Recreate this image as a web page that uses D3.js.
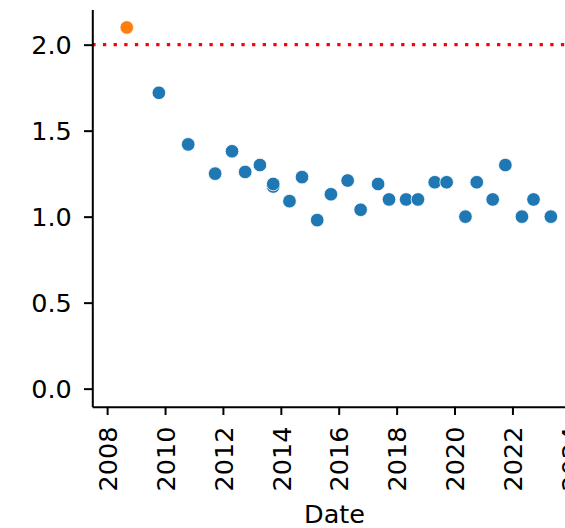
<!DOCTYPE html>
<html>
<head>
<meta charset="utf-8">
<script src="https://cdn.jsdelivr.net/npm/d3@7/dist/d3.min.js"></script>
<style>
  html, body { margin: 0; padding: 0; background: #fff; }
  svg { display: block; font-family: "DejaVu Sans", sans-serif; }
</style>
</head>
<body>
<svg id="chart" width="565" height="528"></svg>
<script>
// ---- data ----
const highlightDates = ["2008-09-05"];
const highlightValues = [2.10];

const dates = [
  "2009-10-15", "2010-10-20", "2011-09-25", "2012-04-25", "2012-10-08",
  "2013-04-12", "2013-09-27", "2013-09-27", "2014-04-20", "2014-09-25",
  "2015-04-05", "2015-09-25", "2016-04-23", "2016-10-04", "2017-05-12",
  "2017-09-27", "2018-05-01", "2018-09-27", "2019-04-27", "2019-09-24",
  "2020-05-18", "2020-10-08", "2021-04-27", "2021-10-04", "2022-05-01",
  "2022-09-24", "2023-05-01"
];
const values = [
  1.72, 1.42, 1.25, 1.38, 1.26,
  1.30, 1.175, 1.19, 1.09, 1.23,
  0.98, 1.13, 1.21, 1.04, 1.19,
  1.10, 1.10, 1.10, 1.20, 1.20,
  1.00, 1.20, 1.10, 1.30, 1.00,
  1.10, 1.00
];
const targetValue = 2.0;
const yTicks = [0.0, 0.5, 1.0, 1.5, 2.0];
const xTickYears = [2008, 2010, 2012, 2014, 2016, 2018, 2020, 2022, 2024];
const xLabel = "Date";

// ---- layout ----
const svg = d3.select("#chart");
const mLeft = 92.3, mRight = 576.7, mTop = 9.4, mBottom = 406.7;
const fontSize = 25.5;
const tickLen = 8.3;

const parse = d3.timeParse("%Y-%m-%d");
const x = d3.scaleTime()
  .domain([parse("2007-06-28"), parse("2024-03-22")])
  .range([mLeft, mRight]);
const y = d3.scaleLinear()
  .domain([-0.105, 2.205])
  .range([mBottom, mTop]);

// target line
svg.append("line")
  .attr("x1", mLeft).attr("x2", mRight)
  .attr("y1", y(targetValue)).attr("y2", y(targetValue))
  .attr("stroke", "#ff0000")
  .attr("stroke-width", 3.3)
  .attr("stroke-dasharray", "3.3,7.35");

// points
const pts = dates.map((d, i) => ({ date: parse(d), value: values[i] }));
const hi = highlightDates.map((d, i) => ({ date: parse(d), value: highlightValues[i] }));

svg.append("g").selectAll("circle").data(hi).join("circle")
  .attr("cx", d => x(d.date)).attr("cy", d => y(d.value))
  .attr("r", 6.8)
  .attr("fill", "#ff7f0e")
  .attr("stroke", "#fff").attr("stroke-width", 0.8);

svg.append("g").selectAll("circle").data(pts).join("circle")
  .attr("cx", d => x(d.date)).attr("cy", d => y(d.value))
  .attr("r", 6.8)
  .attr("fill", "#1f77b4")
  .attr("stroke", "#fff").attr("stroke-width", 0.8);

// y axis
const yAxis = svg.append("g")
  .attr("transform", `translate(${mLeft},0)`)
  .call(d3.axisLeft(y).tickValues(yTicks).tickFormat(d3.format(".1f"))
    .tickSize(tickLen).tickSizeOuter(0).tickPadding(12.2));
yAxis.select(".domain").attr("stroke", "#000").attr("stroke-width", 2);
yAxis.selectAll(".tick line").attr("stroke", "#000").attr("stroke-width", 2);
yAxis.selectAll(".tick text")
  .attr("font-size", fontSize).attr("font-family", "DejaVu Sans")
  .attr("fill", "#000").attr("dy", "0.36em");

// x axis
const xAxis = svg.append("g")
  .attr("transform", `translate(0,${mBottom})`)
  .call(d3.axisBottom(x)
    .tickValues(xTickYears.map(yr => new Date(yr, 0, 1)))
    .tickFormat(d3.timeFormat("%Y"))
    .tickSize(tickLen).tickSizeOuter(0));
xAxis.select(".domain").attr("stroke", "#000").attr("stroke-width", 2);
xAxis.selectAll(".tick line").attr("stroke", "#000").attr("stroke-width", 2);
xAxis.selectAll(".tick text")
  .attr("font-size", fontSize).attr("font-family", "DejaVu Sans")
  .attr("fill", "#000")
  .attr("transform", "rotate(-90)")
  .attr("text-anchor", "end")
  .attr("x", -(tickLen + 11.6))
  .attr("y", 0)
  .attr("dy", "0.36em");

// x label
svg.append("text")
  .attr("x", (mLeft + mRight) / 2)
  .attr("y", 523.3)
  .attr("text-anchor", "middle")
  .attr("font-size", fontSize)
  .attr("fill", "#000")
  .text(xLabel);
</script>
</body>
</html>
